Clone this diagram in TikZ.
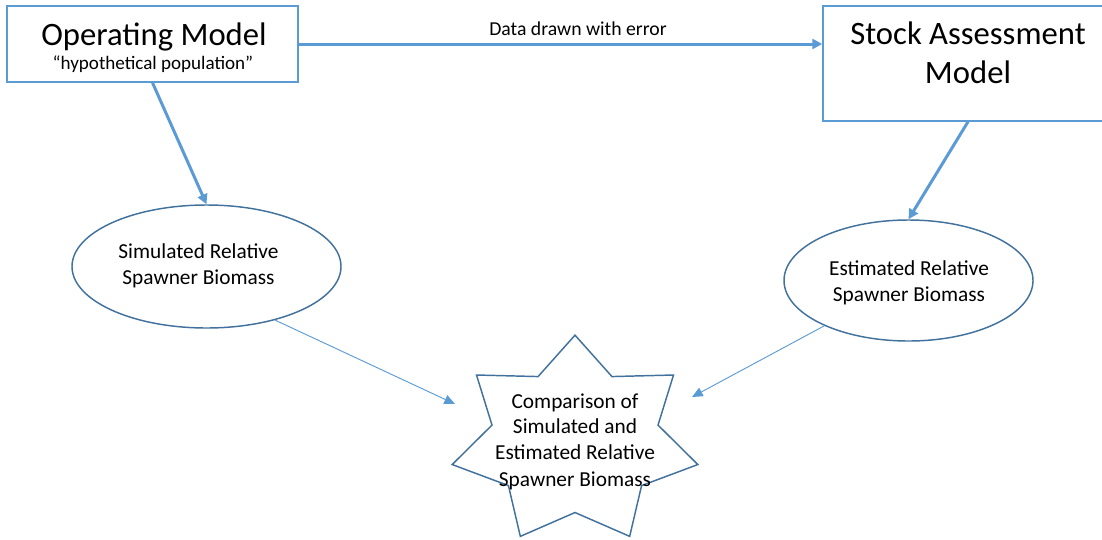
\documentclass[tikz,border=0pt]{standalone}
\usepackage{fontspec}
\setmainfont{Carlito}
\usetikzlibrary{arrows.meta,shapes.geometric}

\definecolor{boxblue}{RGB}{91,155,213}
\definecolor{shapeblue}{RGB}{65,113,156}

\tikzset{
    modelbox/.style={draw=boxblue, line width=1.1pt, inner sep=0pt},
    biomass/.style={ellipse, draw=shapeblue, line width=1.1pt, inner sep=0pt},
    flow/.style={draw=boxblue, line width=2.25pt, -{Triangle[length=7.5pt,width=7.5pt]}},
    thinflow/.style={draw=boxblue, line width=0.7pt, -{Triangle[length=8pt,width=7pt]}},
    bigtext/.style={font=\fontsize{24.5}{28.5}\selectfont, anchor=base, inner sep=0pt},
    smalltext/.style={font=\fontsize{16}{19.5}\selectfont, anchor=base, inner sep=0pt},
}

\begin{document}
\begin{tikzpicture}[x=0.75pt,y=0.75pt,yscale=-1,xscale=1]
    \useasboundingbox (0,0) rectangle (1102,539);

    %Shape: Rectangle [operating model]
    \node[modelbox, minimum width=218.25pt, minimum height=57pt] (om) at (152.5,44) {};
    %Shape: Rectangle [stock assessment model]
    \node[modelbox, minimum width=217.5pt, minimum height=86.25pt] (sam) at (968,63.5) {};
    %Shape: Ellipse
    \node[biomass, minimum width=201.75pt, minimum height=92.25pt] (simbio) at (206.5,266.5) {};
    %Shape: Ellipse
    \node[biomass, minimum width=186.75pt, minimum height=90.75pt] (estbio) at (908.5,280.5) {};
    %Shape: Star (yscale undoes the flipped y axis)
    \node[star, star points=7, star point ratio=1.48, draw=shapeblue, line width=1.1pt,
          inner sep=0pt, minimum size=189pt, yscale=-0.84, transform shape] (cmp) at (575,441) {};

    % Arrow tips beside the star
    \coordinate (cmpL) at (455,404);
    \coordinate (cmpR) at (692,397);

    %Straight Lines
    \draw[flow] (om.east) -- (om.east -| sam.west);
    \draw[flow] (om.south) -- (simbio.north);
    \draw[flow] (sam.south) -- (estbio.north);
    \draw[thinflow] (simbio.-38) -- (cmpL);
    \draw[thinflow] (estbio) -- (cmpR);

    % Text Node
    \node[bigtext] (omtitle) at (154,45) {Operating Model};
    % Text Node
    \node[font=\fontsize{14.3}{17}\selectfont, anchor=base, inner sep=0pt] (omsub) at (153,69) {“hypothetical population”};
    % Text Node
    \node[bigtext] (samtitle) at (968,44) {Stock Assessment};
    % Text Node
    \node[bigtext] (samtitle2) at (968,83) {Model};
    % Text Node
    \node[font=\fontsize{14.8}{17}\selectfont, anchor=base, inner sep=0pt] (datalabel) at (578,36) {Data drawn with error};
    % Text Node
    \node[smalltext] (simtext1) at (198.5,258) {Simulated Relative};
    \node[smalltext] (simtext2) at (198.5,284) {Spawner Biomass};
    % Text Node
    \node[smalltext] (esttext1) at (909,275) {Estimated Relative};
    \node[smalltext] (esttext2) at (909,301) {Spawner Biomass};
    % Text Node
    \node[smalltext] (cmptext1) at (575,408) {Comparison of};
    \node[smalltext] (cmptext2) at (575,433) {Simulated and};
    \node[smalltext] (cmptext3) at (575,459) {Estimated Relative};
    \node[smalltext] (cmptext4) at (575,486) {Spawner Biomass};

\end{tikzpicture}
\end{document}
